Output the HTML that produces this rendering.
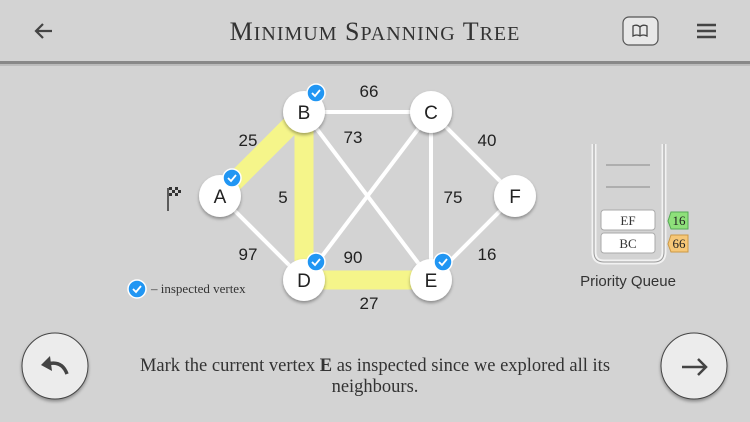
<!DOCTYPE html>
<html><head><style>
body{margin:0;width:750px;height:422px;overflow:hidden;background:#d3d3d3;font-family:"Liberation Sans",sans-serif}
</style></head><body>
<svg width="750" height="422" xmlns="http://www.w3.org/2000/svg" style="display:block">
<defs>
<filter id="sh" x="-20%" y="-20%" width="140%" height="160%"><feDropShadow dx="0" dy="2" stdDeviation="1.5" flood-color="#000" flood-opacity="0.35"/></filter>
<g id="chk">
<circle cx="0" cy="0" r="9" fill="#2196f3" stroke="#fff" stroke-width="1.5"/>
<path d="M-4 0 L-1 3 L4 -3" stroke="#fff" stroke-width="1.8" fill="none"/>
</g>
</defs>
<rect width="750" height="62" fill="#d3d3d3"/>
<rect x="0" y="61" width="750" height="3" fill="#888"/>
<rect x="0" y="64" width="750" height="2" fill="#bbb"/>
<path d="M52 31 H36 M43 24 L36 31 L43 38" stroke="#444" stroke-width="2.2" fill="none"/>
<text x="375" y="40" text-anchor="middle" font-family="Liberation Serif,serif" font-size="26" fill="#333" letter-spacing="1">M<tspan font-size="20">INIMUM</tspan> S<tspan font-size="20">PANNING</tspan> T<tspan font-size="20">REE</tspan></text>
<rect x="623" y="17" width="35" height="28" rx="6" fill="#e8e8e8" stroke="#555" stroke-width="1.2"/>
<path d="M633 26 Q637 24 640 27 Q643 24 647 26 V36 Q643 34 640 36 Q637 34 633 36 Z M640 27 V36" stroke="#444" stroke-width="1.3" fill="none"/>
<path d="M697 25 H716 M697 31 H716 M697 37 H716" stroke="#444" stroke-width="2.5"/>

<g stroke="#fff" stroke-width="4">
<line x1="304" y1="112" x2="431" y2="112"/>
<line x1="304" y1="112" x2="431" y2="280"/>
<line x1="431" y1="112" x2="304" y2="280"/>
<line x1="431" y1="112" x2="431" y2="280"/>
<line x1="431" y1="112" x2="515" y2="196"/>
<line x1="220" y1="196" x2="304" y2="280"/>
<line x1="431" y1="280" x2="515" y2="196"/>
</g>
<g stroke="#f5f58a" stroke-width="19" fill="none">
<polyline points="220,196 304,112 304,280 431,280"/>
</g>
<g font-size="17" fill="#222" text-anchor="middle">
<text x="369" y="97">66</text><text x="248" y="146">25</text><text x="353" y="143">73</text>
<text x="487" y="146">40</text><text x="283" y="203">5</text><text x="453" y="203">75</text>
<text x="248" y="260">97</text><text x="353" y="263">90</text><text x="487" y="260">16</text>
<text x="369" y="309">27</text>
</g>
<g filter="url(#sh)" fill="#fff">
<circle cx="220" cy="196" r="21"/><circle cx="304" cy="112" r="21"/><circle cx="431" cy="112" r="21"/>
<circle cx="304" cy="280" r="21"/><circle cx="431" cy="280" r="21"/><circle cx="515" cy="196" r="21"/>
</g>
<g font-size="19" fill="#222" text-anchor="middle">
<text x="220" y="203">A</text><text x="304" y="119">B</text><text x="431" y="119">C</text>
<text x="304" y="287">D</text><text x="431" y="287">E</text><text x="515" y="203">F</text>
</g>
<use href="#chk" x="316" y="93"/><use href="#chk" x="232" y="178"/>
<use href="#chk" x="316" y="262"/><use href="#chk" x="443" y="262"/>
<use href="#chk" x="137" y="289"/>
<text x="151" y="293" font-family="Liberation Serif,serif" font-size="13" fill="#333">– inspected vertex</text>
<line x1="168" y1="188" x2="168" y2="211" stroke="#333" stroke-width="1.5"/>
<g fill="#333"><rect x="169" y="187" width="3" height="3"/><rect x="175" y="187" width="3" height="3"/><rect x="172" y="190" width="3" height="3"/><rect x="178" y="190" width="3" height="3"/><rect x="169" y="193" width="3" height="3"/><rect x="175" y="193" width="3" height="3"/></g>

<path d="M594 144 V252 Q594 262 604 262 H654 Q664 262 664 252 V144" fill="none" stroke="#f2f2f2" stroke-width="5"/>
<path d="M594 144 V252 Q594 262 604 262 H654 Q664 262 664 252 V144" fill="none" stroke="#999" stroke-width="1"/>
<path d="M606 165 H650 M606 187 H650" stroke="#999" stroke-width="1.2"/>
<rect x="601" y="210" width="54" height="20" rx="3" fill="#fff" stroke="#aaa"/>
<rect x="601" y="233" width="54" height="20" rx="3" fill="#fff" stroke="#aaa"/>
<g font-family="Liberation Serif,serif" font-size="13" fill="#333" text-anchor="middle"><text x="628" y="225">EF</text><text x="628" y="248">BC</text></g>
<path d="M671 212 H688 V229 H671 L668 221 Z" fill="#8ee07a" stroke="#5a5" />
<path d="M671 235 H688 V252 H671 L668 244 Z" fill="#f6c777" stroke="#c94" />
<g font-family="Liberation Serif,serif" font-size="13" fill="#222" text-anchor="middle"><text x="679" y="225">16</text><text x="679" y="248">66</text></g>
<text x="628" y="286" text-anchor="middle" font-size="15" fill="#333">Priority Queue</text>

<g filter="url(#sh)" fill="#ececec" stroke="#444" stroke-width="1">
<circle cx="55" cy="366" r="33"/><circle cx="694" cy="366" r="33"/>
</g>
<path d="M47 364 Q62 360 67 374" stroke="#444" stroke-width="3.5" fill="none"/>
<path d="M41 365 L50 356 L52 371 Z" fill="#444"/>
<path d="M682 367 H706 M698 359 L706 367 L698 375" stroke="#444" stroke-width="2.5" fill="none"/>
<g font-family="Liberation Serif,serif" font-size="18.5" fill="#333" text-anchor="middle">
<text x="375" y="371">Mark the current vertex <tspan font-weight="bold">E</tspan> as inspected since we explored all its</text>
<text x="375" y="392">neighbours.</text>
</g>
</svg>
</body></html>
